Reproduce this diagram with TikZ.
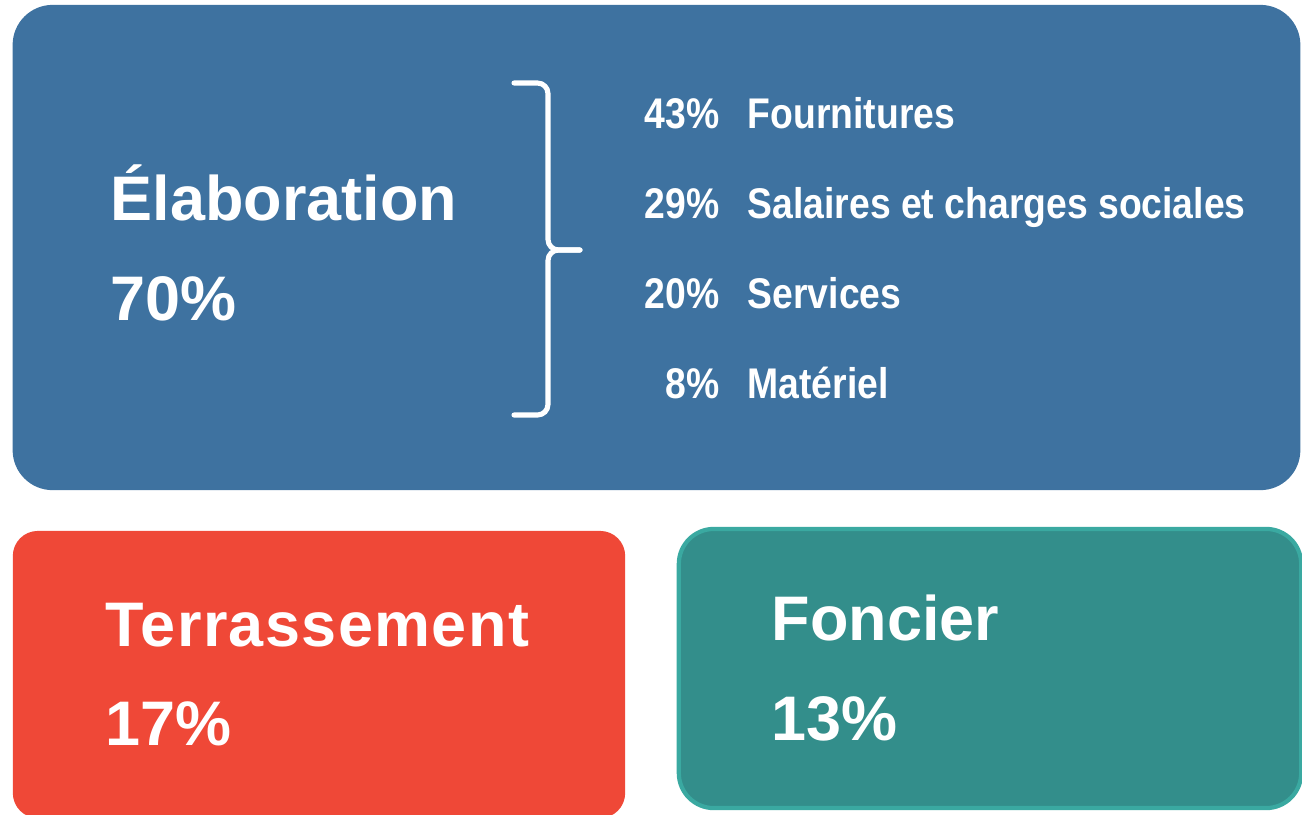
\documentclass[tikz,border=0pt]{standalone}
\usepackage{fontspec}
\setmainfont{Liberation Sans}
\newfontfamily\narrowsf[FakeStretch=0.87]{Liberation Sans}
\usepackage{tikz}
\definecolor{elabblue}{HTML}{3E72A0}
\definecolor{terrred}{HTML}{EF4837}
\definecolor{foncteal}{HTML}{338E8B}
\definecolor{foncedge}{HTML}{3AA9A1}
\tikzset{
  % Boxes and the texts set on them
  cost box/.style={rectangle,inner sep=0,draw=none},
  title text/.style={text=white,inner sep=0,font=\fontsize{17.9pt}{20pt}\selectfont\bfseries},
  share text/.style={text=white,inner sep=0,font=\narrowsf\fontsize{12.2pt}{14pt}\selectfont\bfseries},
  bracket/.style={draw=white,line width=1.45pt,rounded corners=3pt,line cap=round}
}
\begin{document}
\begin{tikzpicture}[x=0.01cm,y=-0.01cm]
  \useasboundingbox (0,0) rectangle (1302,814);
  % The three boxes
  \node(elab)[cost box,fill=elabblue,rounded corners=0.4cm,
    minimum width=12.87cm,minimum height=4.85cm] at (656.5,247.5) {};
  \node(terr)[cost box,fill=terrred,rounded corners=0.25cm,
    minimum width=6.12cm,minimum height=2.87cm] at (319,674.5) {};
  \node(fonc)[cost box,fill=foncteal,draw=foncedge,line width=1.2pt,rounded corners=0.35cm,
    minimum width=6.22cm,minimum height=2.79cm] at (990,668.5) {};
  % Titles and shares
  \node(elabname)[title text,anchor=base west] at (110,220) {Élaboration};
  \node(elabpct)[title text,anchor=base west] at (110,320) {70\%};
  \node(terrname)[title text,anchor=base west] at (105,646) {\addfontfeature{LetterSpace=2.2}Terrassement};
  \node(terrpct)[title text,anchor=base west] at (105,745) {17\%};
  \node(foncname)[title text,anchor=base west] at (771,640) {Foncier};
  \node(foncpct)[title text,anchor=base west] at (771,740) {13\%};
  % Bracket
  \draw[bracket] (514,83) -- (548,83) -- (548,250) -- (580,250);
  \draw[bracket] (514,415) -- (548,415) -- (548,250) -- (580,250);
  % Split of the elaboration share
  \node(p1)[share text,anchor=base east] at (720,128) {43\%};
  \node(s1)[share text,anchor=base west] at (747,128) {Fournitures};
  \node(p2)[share text,anchor=base east] at (720,218) {29\%};
  \node(s2)[share text,anchor=base west] at (747,218) {Salaires et charges sociales};
  \node(p3)[share text,anchor=base east] at (720,308) {20\%};
  \node(s3)[share text,anchor=base west] at (747,308) {Services};
  \node(p4)[share text,anchor=base east] at (720,398) {8\%};
  \node(s4)[share text,anchor=base west] at (747,398) {Matériel};
\end{tikzpicture}
\end{document}
